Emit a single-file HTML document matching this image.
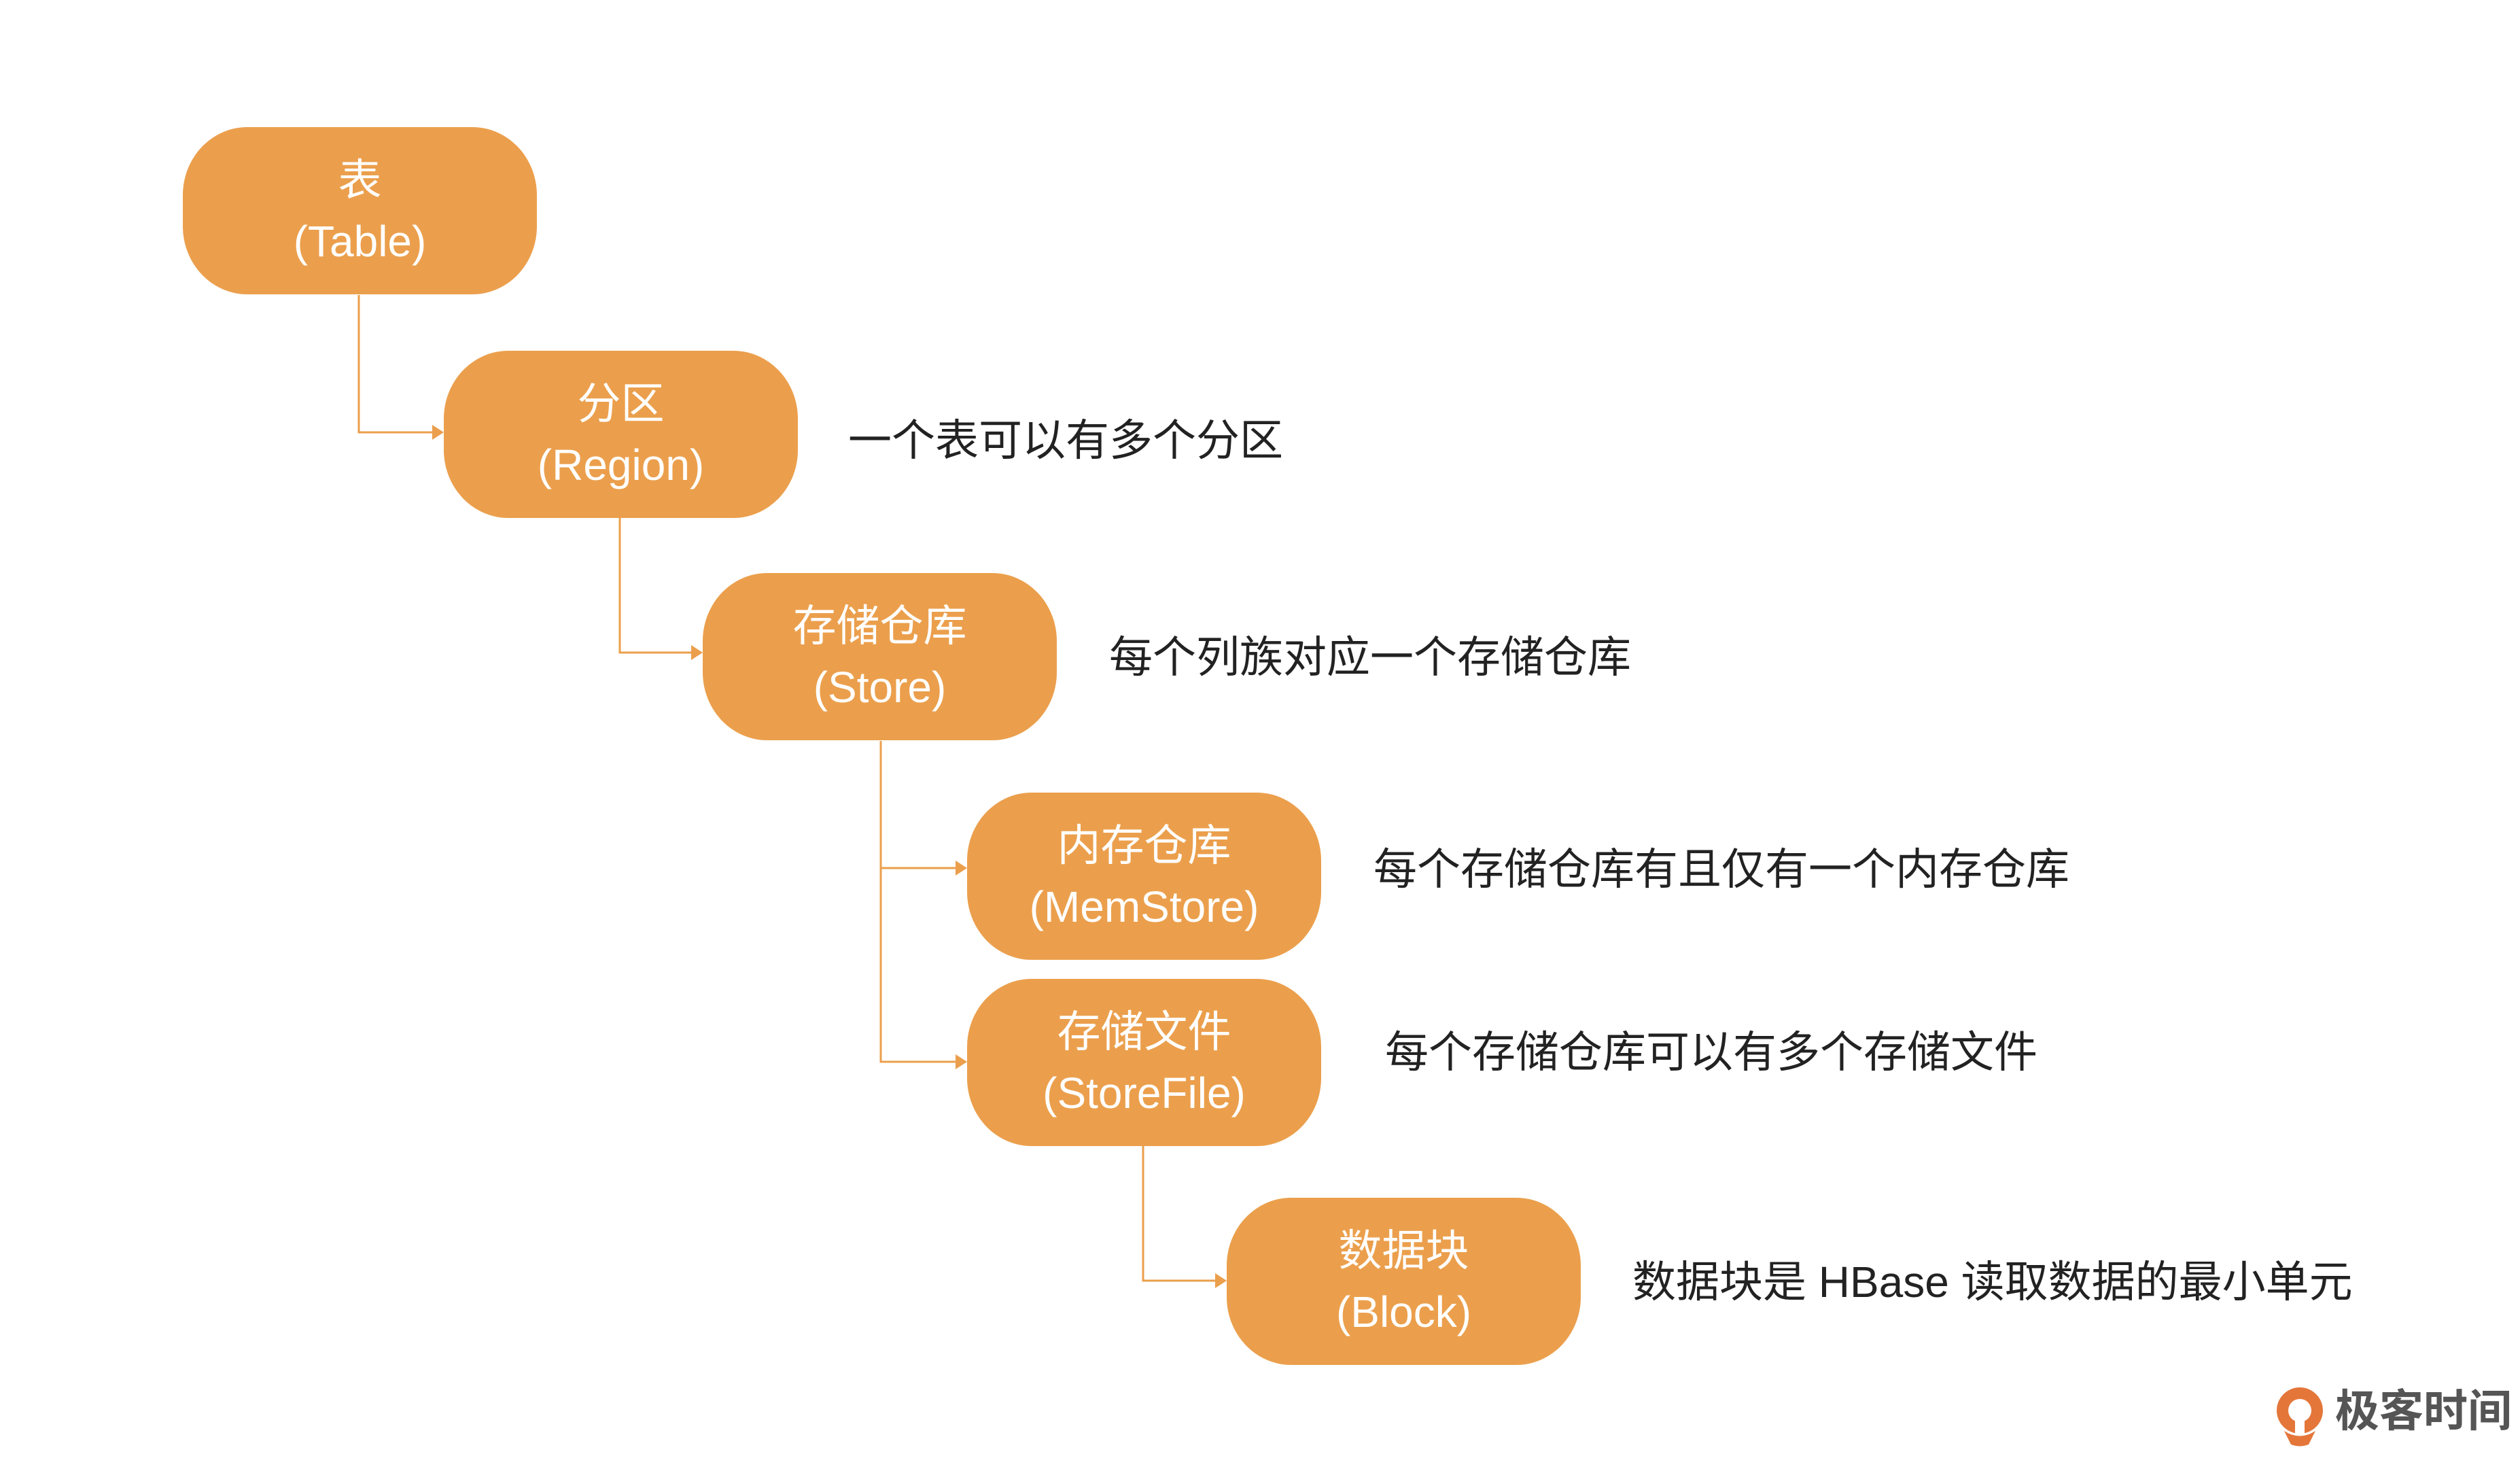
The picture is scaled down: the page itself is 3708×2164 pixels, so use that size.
<!DOCTYPE html>
<html><head><meta charset="utf-8"><style>
html,body{margin:0;padding:0;background:#fff}
body{width:3708px;height:2164px;position:relative;overflow:hidden;font-family:"Liberation Sans","Noto Sans CJK SC",sans-serif}
.b{position:absolute;width:521px;height:246px;background:#EB9F4C;border-radius:95px/100px;color:#fff;font-size:64px;text-align:center;line-height:90px;box-sizing:border-box;padding-top:33px}
.t{position:absolute;font-size:64px;color:#222;line-height:80px;white-space:nowrap;transform:translateY(-50%)}
</style></head><body>
<svg width="3708" height="2164" style="position:absolute;left:0;top:0">
<g stroke="#EB9F4C" stroke-width="3" fill="none">
<path d="M528 434 V636 H640"/>
<path d="M912 761 V960 H1020"/>
<path d="M1296 1090 V1562 H1410 M1296 1277 H1410"/>
<path d="M1682 1685 V1884 H1792"/>
</g>
<g fill="#EB9F4C">
<path d="M653 636 l-17 -11 v22z"/>
<path d="M1034 960 l-17 -11 v22z"/>
<path d="M1423 1277 l-17 -11 v22z"/>
<path d="M1423 1562 l-17 -11 v22z"/>
<path d="M1805 1884 l-17 -11 v22z"/>
</g>
<circle cx="3384" cy="2075" r="34" fill="#E4763A"/>
<circle cx="3384" cy="2075" r="17" fill="#fff"/>
<path d="M3377 2060 L3391 2060 L3391 2112 L3377 2112z" fill="#fff"/>
<path d="M3361 2105 Q3384 2120 3407 2105 L3397 2125 Q3384 2130 3371 2125z" fill="#E4763A"/>
</svg>
<div class="b" style="left:269px;top:187px">表<br>(Table)</div>
<div class="b" style="left:653px;top:516px">分区<br>(Region)</div>
<div class="b" style="left:1034px;top:843px">存储仓库<br>(Store)</div>
<div class="b" style="left:1423px;top:1166px">内存仓库<br>(MemStore)</div>
<div class="b" style="left:1423px;top:1440px">存储文件<br>(StoreFile)</div>
<div class="b" style="left:1805px;top:1762px">数据块<br>(Block)</div>
<div class="t" style="left:1248px;top:648px">一个表可以有多个分区</div>
<div class="t" style="left:1632px;top:967px">每个列族对应一个存储仓库</div>
<div class="t" style="left:2021px;top:1279px">每个存储仓库有且仅有一个内存仓库</div>
<div class="t" style="left:2038px;top:1548px">每个存储仓库可以有多个存储文件</div>
<div class="t" style="left:2402px;top:1886px">数据块是 HBase 读取数据的最小单元</div>
<div class="t" style="left:3436px;top:2076px;font-size:65px;color:#555;font-weight:bold">极客时间</div>
</body></html>
